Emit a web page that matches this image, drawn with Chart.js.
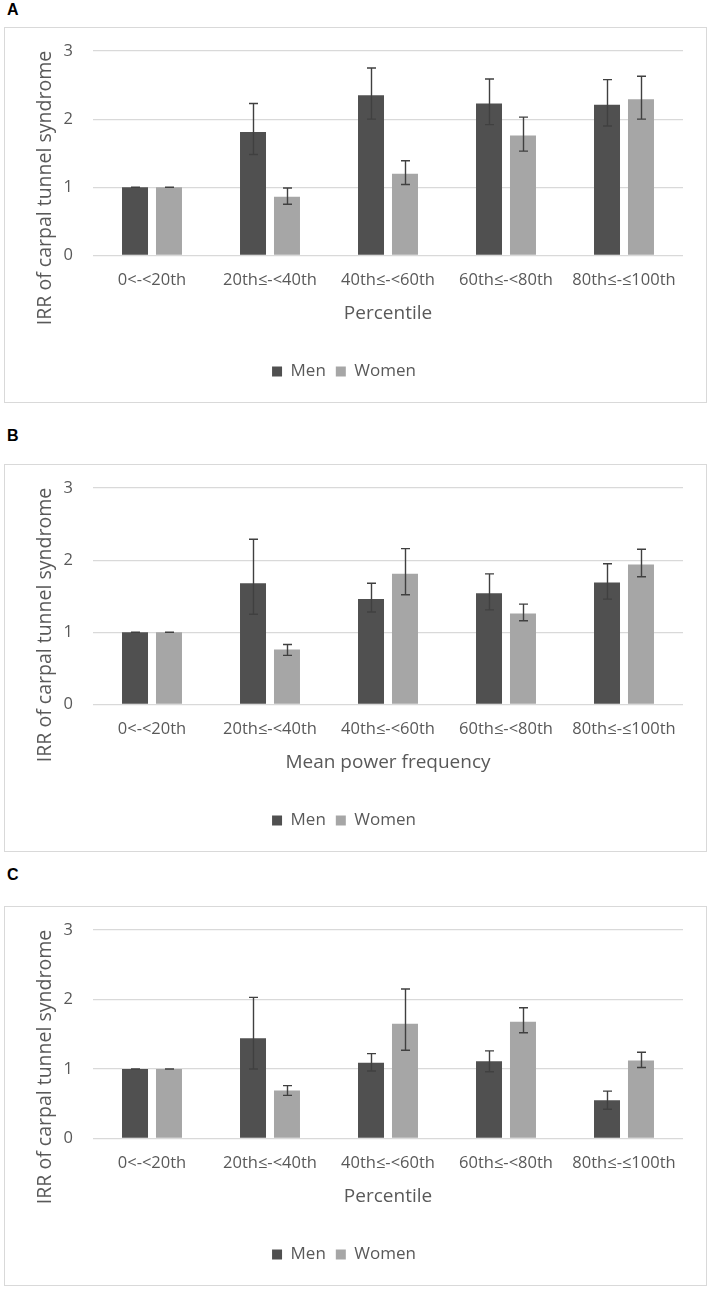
<!DOCTYPE html>
<html>
<head>
<meta charset="utf-8">
<script src="https://cdn.jsdelivr.net/npm/chart.js@4.4.1/dist/chart.umd.min.js"></script>
<style>
  body { margin:0; background:#fff; width:712px; height:1292px; position:relative; font-family:"Open Sans", sans-serif; }
  .lab { position:absolute; left:7px; font:bold 16px "Liberation Sans", Arial, sans-serif; color:#000; line-height:16px; }
  .frame { position:absolute; left:4px; width:703px; border:1px solid #d9d9d9; box-sizing:border-box; }
  canvas { display:block; }
</style>
</head>
<body>
<div class="lab" style="top:2px">A</div>
<div class="frame" style="top:27px;height:376px"><canvas id="cA" width="701" height="374"></canvas></div>
<div class="lab" style="top:428px">B</div>
<div class="frame" style="top:464px;height:388px"><canvas id="cB" width="701" height="386"></canvas></div>
<div class="lab" style="top:867px">C</div>
<div class="frame" style="top:906px;height:380px"><canvas id="cC" width="701" height="378"></canvas></div>

<script>
// ── Data ───────────────────────────────────────────────────
const categories = ['0<-<20th', '20th≤-<40th', '40th≤-<60th', '60th≤-<80th', '80th≤-≤100th'];
const yTicks = [0, 1, 2, 3];

// A: Percentile
const menA      = [1.00, 1.81, 2.35, 2.23, 2.21];
const menALo    = [1.00, 1.48, 2.00, 1.92, 1.90];
const menAHi    = [1.00, 2.23, 2.75, 2.59, 2.58];
const womenA    = [1.00, 0.86, 1.20, 1.76, 2.29];
const womenALo  = [1.00, 0.75, 1.04, 1.53, 2.00];
const womenAHi  = [1.00, 0.99, 1.39, 2.03, 2.63];

// B: Mean power frequency
const menB      = [1.00, 1.68, 1.46, 1.54, 1.69];
const menBLo    = [1.00, 1.25, 1.28, 1.31, 1.46];
const menBHi    = [1.00, 2.29, 1.68, 1.81, 1.95];
const womenB    = [1.00, 0.76, 1.81, 1.26, 1.94];
const womenBLo  = [1.00, 0.68, 1.52, 1.16, 1.77];
const womenBHi  = [1.00, 0.83, 2.16, 1.39, 2.15];

// C: Percentile
const menC      = [1.00, 1.44, 1.09, 1.11, 0.55];
const menCLo    = [1.00, 1.00, 0.97, 0.96, 0.42];
const menCHi    = [1.00, 2.03, 1.22, 1.26, 0.68];
const womenC    = [1.00, 0.69, 1.65, 1.68, 1.12];
const womenCLo  = [1.00, 0.62, 1.27, 1.52, 1.02];
const womenCHi  = [1.00, 0.76, 2.15, 1.88, 1.24];

const textCol = '#595959';
const gridCol = '#d9d9d9';

// ── Error bars ─────────────────────────────────────────────
const errorBars = {
  id: 'errorBars',
  afterDatasetsDraw(chart) {
    const { ctx, scales: { y } } = chart;
    ctx.save();
    ctx.strokeStyle = '#404040';
    ctx.lineWidth = 1.4;
    chart.data.datasets.forEach((ds, i) => {
      chart.getDatasetMeta(i).data.forEach((bar, j) => {
        const lo = y.getPixelForValue(ds.errLo[j]);
        const hi = y.getPixelForValue(ds.errHi[j]);
        const x = Math.round(bar.x) + 0.5, w = 4.5;
        ctx.beginPath();
        ctx.moveTo(x, lo); ctx.lineTo(x, hi);
        ctx.moveTo(x - w, hi); ctx.lineTo(x + w, hi);
        ctx.moveTo(x - w, lo); ctx.lineTo(x + w, lo);
        ctx.stroke();
      });
    });
    ctx.restore();
  }
};

// ── Rotated y title (Excel puts it a bit below the plot middle) ──
const yTitle = {
  id: 'yTitle',
  afterDraw(chart, args, opts) {
    const { ctx, chartArea } = chart;
    ctx.save();
    ctx.translate(40, chartArea.top + 137);
    ctx.rotate(-Math.PI / 2);
    ctx.font = '19.5px "Open Sans"';
    ctx.fillStyle = textCol;
    ctx.textAlign = 'center';
    ctx.textBaseline = 'middle';
    ctx.fillText(opts.text, 0, 0);
    ctx.restore();
  }
};

function makeChart(id, xTitle, men, menLo, menHi, women, womenLo, womenHi) {
  return new Chart(document.getElementById(id), {
    type: 'bar',
    data: {
      labels: categories,
      datasets: [
        { label: 'Men', data: men, errLo: menLo, errHi: menHi, backgroundColor: '#505050' },
        { label: 'Women', data: women, errLo: womenLo, errHi: womenHi, backgroundColor: '#a6a6a6' }
      ]
    },
    options: {
      responsive: false,
      animation: false,
      categoryPercentage: 0.576,
      barPercentage: 0.765,
      layout: { padding: { top: 23, right: 23, bottom: 12, left: 0 } },
      plugins: {
        tooltip: { enabled: false },
        yTitle: { text: 'IRR of carpal tunnel syndrome' },
        legend: {
          position: 'bottom',
          labels: { boxWidth: 10, boxHeight: 10, padding: 10, color: textCol, font: { family: 'Open Sans', size: 17 } }
        }
      },
      scales: {
        x: {
          grid: { display: false, drawTicks: false },
          border: { display: false },
          ticks: { color: textCol, padding: 15, maxRotation: 0, autoSkip: false, font: { family: 'Open Sans', size: 16.5 } },
          title: { display: true, text: xTitle, color: textCol, padding: { top: -3, bottom: 28 }, font: { family: 'Open Sans', size: 19 } }
        },
        y: {
          min: 0, max: 3,
          afterFit(scale) {
            scale.width = 88;
            // the tick padding would otherwise push the plot top down
            scale.paddingTop = 10;
            scale.paddingBottom = 10;
          },
          afterBuildTicks(scale) { scale.ticks = yTicks.map(v => ({ value: v })); },
          grid: { color: gridCol, lineWidth: 1.2, drawTicks: false },
          border: { display: false },
          ticks: { color: textCol, padding: 20, font: { family: 'Open Sans', size: 16.5 } }
        }
      }
    },
    plugins: [errorBars, yTitle]
  });
}

makeChart('cA', 'Percentile', menA, menALo, menAHi, womenA, womenALo, womenAHi);
makeChart('cB', 'Mean power frequency', menB, menBLo, menBHi, womenB, womenBLo, womenBHi);
makeChart('cC', 'Percentile', menC, menCLo, menCHi, womenC, womenCLo, womenCHi);
</script>
</body>
</html>
